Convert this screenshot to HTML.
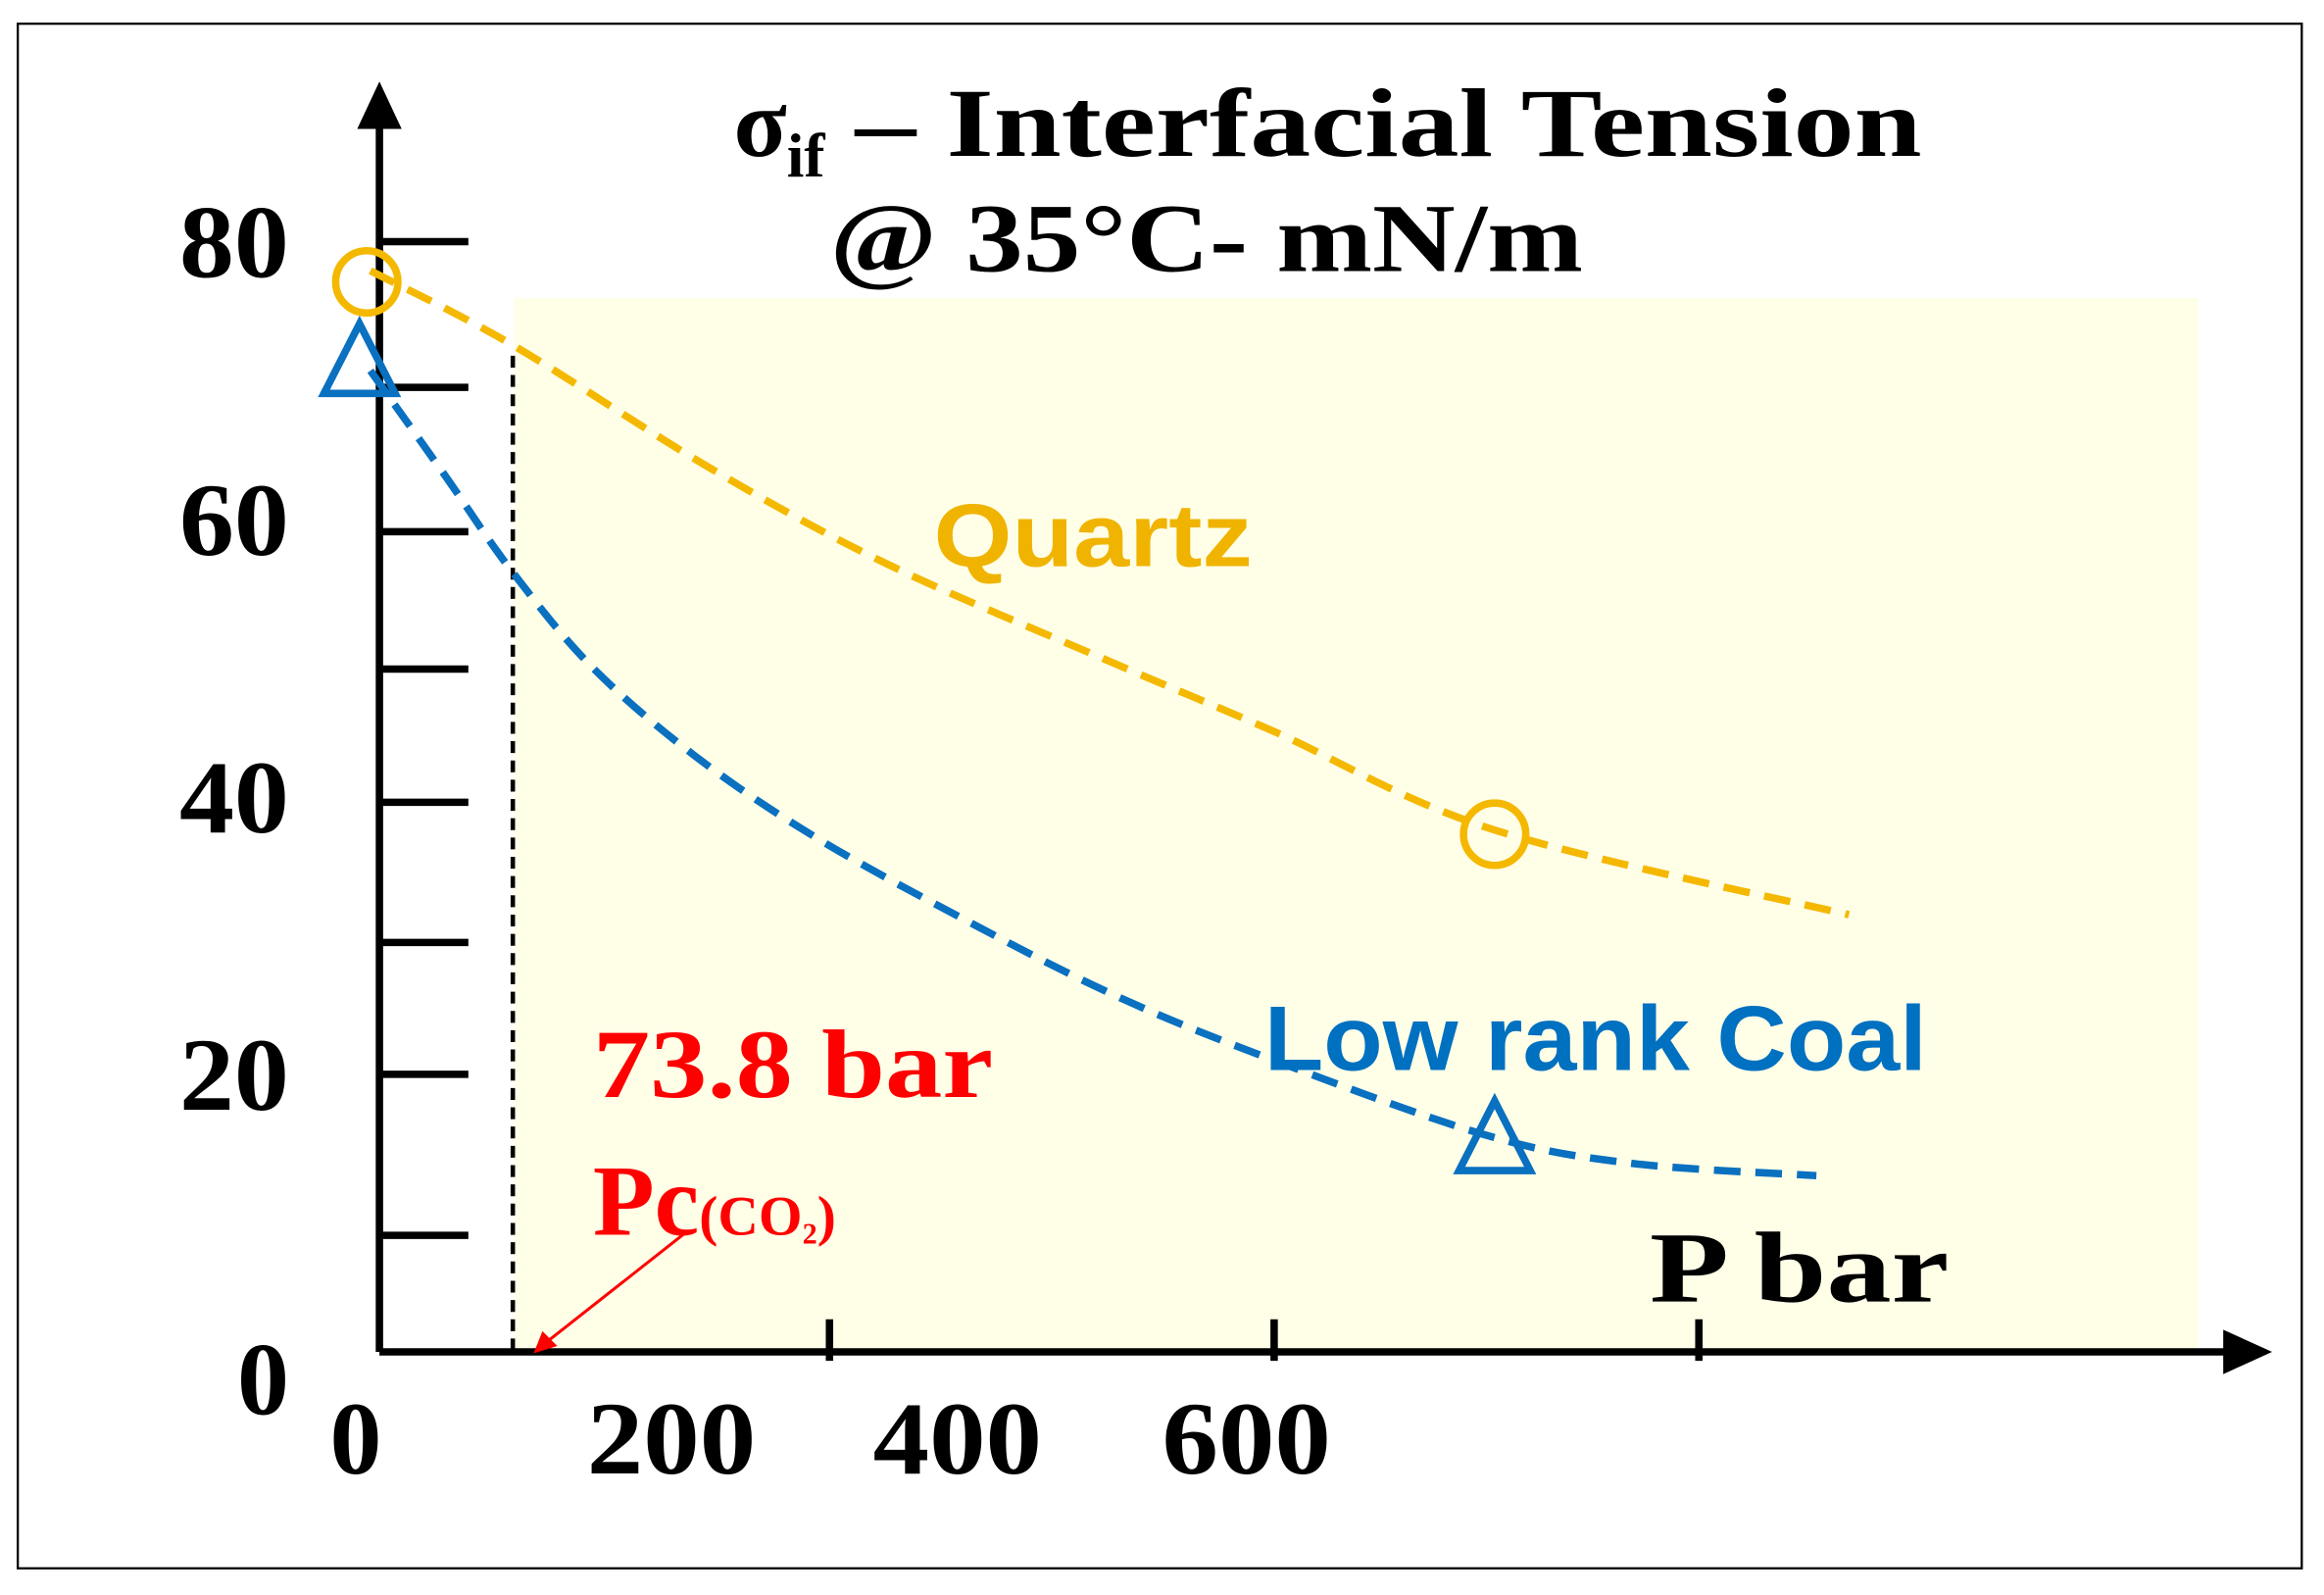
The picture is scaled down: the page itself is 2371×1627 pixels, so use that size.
<!DOCTYPE html>
<html><head><meta charset="utf-8"><style>
html,body{margin:0;padding:0;background:#fff;}
svg{display:block;}
text{font-family:"Liberation Serif",serif;font-weight:bold;}
</style></head><body>
<svg width="2371" height="1627" viewBox="0 0 1568 1076" preserveAspectRatio="none" xmlns="http://www.w3.org/2000/svg">
<rect x="12" y="16" width="1541" height="1042" fill="#fff" stroke="#000" stroke-width="1.5"/>
<rect x="347" y="201" width="1136" height="710" fill="#FFFFE8"/>
<g id="plot"></g>
<text x="495" y="105" font-size="66">σ<tspan font-size="42" dy="14">if</tspan><tspan dy="-14" textLength="740" lengthAdjust="spacingAndGlyphs"> – Interfacial Tension</tspan></text>
<text x="560" y="183" font-size="66" textLength="508" lengthAdjust="spacingAndGlyphs">@ 35°C- mN/m</text>
<text x="630" y="382" font-size="60" fill="#F0B400" style="font-family:'Liberation Sans',sans-serif" textLength="215" lengthAdjust="spacingAndGlyphs">Quartz</text>
<text x="853" y="722" font-size="62" fill="#0070C0" style="font-family:'Liberation Sans',sans-serif" textLength="447" lengthAdjust="spacingAndGlyphs">Low rank Coal</text>
<text x="400" y="740" font-size="66" fill="#FF0000" textLength="270" lengthAdjust="spacingAndGlyphs">73.8 bar</text>
<text x="400" y="833" font-size="68" fill="#FF0000">Pc<tspan font-size="38">(CO</tspan><tspan font-size="20" dy="6">2</tspan><tspan font-size="38" dy="-6">)</tspan></text>
<text x="1113" y="878" font-size="68" textLength="202" lengthAdjust="spacingAndGlyphs">P  bar</text>
<line x1="462" y1="832" x2="368" y2="906" stroke="#FF0000" stroke-width="2"/>
<polygon points="360,913 366,898 376,908" fill="#FF0000"/>
</svg>
<script>
const quartzX=[-5,73,184,282,405,495,617,813];
const quartzY=[77.9,72.6,63.6,56.7,49.7,44.7,37.6,31.5];
const coalX=[-5,36,73,118,175,241,323,405,487,610,692,795];
const coalY=[70.7,63.2,56.3,49.3,42.9,37.1,31.2,25.8,21.4,15.7,13.6,12.7];
const quartzMarkX=[-7,617];
const quartzMarkY=[77.1,37.3];
const coalMarkX=[-11,617];
const coalMarkY=[71.2,15.2];
const yTickVals=[0,8.4,20,29.5,39.6,49.2,59.1,69.5,80];
const yLabelVals=[0,20,40,60,80];
const xTickVals=[249,495,730];
const xLabels=["0","200","400","600"];
const criticalP=73.8;

const NS="http://www.w3.org/2000/svg";
const g=document.getElementById('plot');
const xs=v=>256+v*1.2195;
const ys=v=>912-v*9.3625;
function mk(t,a){const e=document.createElementNS(NS,t);for(const k in a)e.setAttribute(k,a[k]);g.appendChild(e);return e;}
function smooth(X,Y){const p=X.map((x,i)=>[xs(x),ys(Y[i])]);let d=`M${p[0][0]},${p[0][1]}`;
for(let i=0;i<p.length-1;i++){const p0=p[i-1]||p[i],p1=p[i],p2=p[i+1],p3=p[i+2]||p2;
d+=` C${p1[0]+(p2[0]-p0[0])/6},${p1[1]+(p2[1]-p0[1])/6} ${p2[0]-(p3[0]-p1[0])/6},${p2[1]-(p3[1]-p1[1])/6} ${p2[0]},${p2[1]}`;}return d;}

let e=mk('line',{x1:xs(criticalP),y1:240,x2:xs(criticalP),y2:912,stroke:'#000','stroke-width':3,'stroke-dasharray':'8,5'});



e=mk('line',{x1:256,y1:912,x2:256,y2:80,stroke:'#000','stroke-width':5});


e=mk('polygon',{points:'256,55 241,87 271,87',fill:'#000'});


e=mk('line',{x1:256,y1:912,x2:1505,y2:912,stroke:'#000','stroke-width':5});


e=mk('polygon',{points:'1533,912 1500,897 1500,927',fill:'#000'});



yTickVals.forEach(v=>{if(v===0)return;const t=mk('line',{x1:258,y1:ys(v),x2:316,y2:ys(v),stroke:'#000','stroke-width':5});

});
yLabelVals.forEach(v=>{const t=mk('text',{x:195,y:ys(v)+(v===0?42:24),'text-anchor':'end','font-size':70});t.textContent=v;
if(v!==0){t.setAttribute('textLength',74);t.setAttribute('lengthAdjust','spacingAndGlyphs');}

});
xTickVals.forEach(v=>{const t=mk('line',{x1:xs(v),y1:890,x2:xs(v),y2:918,stroke:'#000','stroke-width':5});

});
const xLabelPos=[240,453,646,841];
xLabels.forEach((s,i)=>{const t=mk('text',{x:xLabelPos[i],y:994,'text-anchor':'middle','font-size':70});t.textContent=s;
if(s.length>1){t.setAttribute('textLength',114);t.setAttribute('lengthAdjust','spacingAndGlyphs');}

});

e=mk('path',{d:smooth(quartzX,quartzY),fill:'none',stroke:'#F5B800','stroke-width':5,'stroke-dasharray':'18,10'});


e=mk('path',{d:smooth(coalX,coalY),fill:'none',stroke:'#0A70C0','stroke-width':5,'stroke-dasharray':'18,10'});


quartzMarkX.forEach((x,i)=>{const c=mk('circle',{cx:xs(x),cy:ys(quartzMarkY[i]),r:21,fill:'none',stroke:'#F5B800','stroke-width':5});

});
coalMarkX.forEach((x,i)=>{const cx=xs(x),cy=ys(coalMarkY[i]);const c=mk('polygon',{points:`${cx},${cy-27} ${cx-24},${cy+20} ${cx+24},${cy+20}`,fill:'none',stroke:'#0A70C0','stroke-width':5});

});
</script>
</body></html>
